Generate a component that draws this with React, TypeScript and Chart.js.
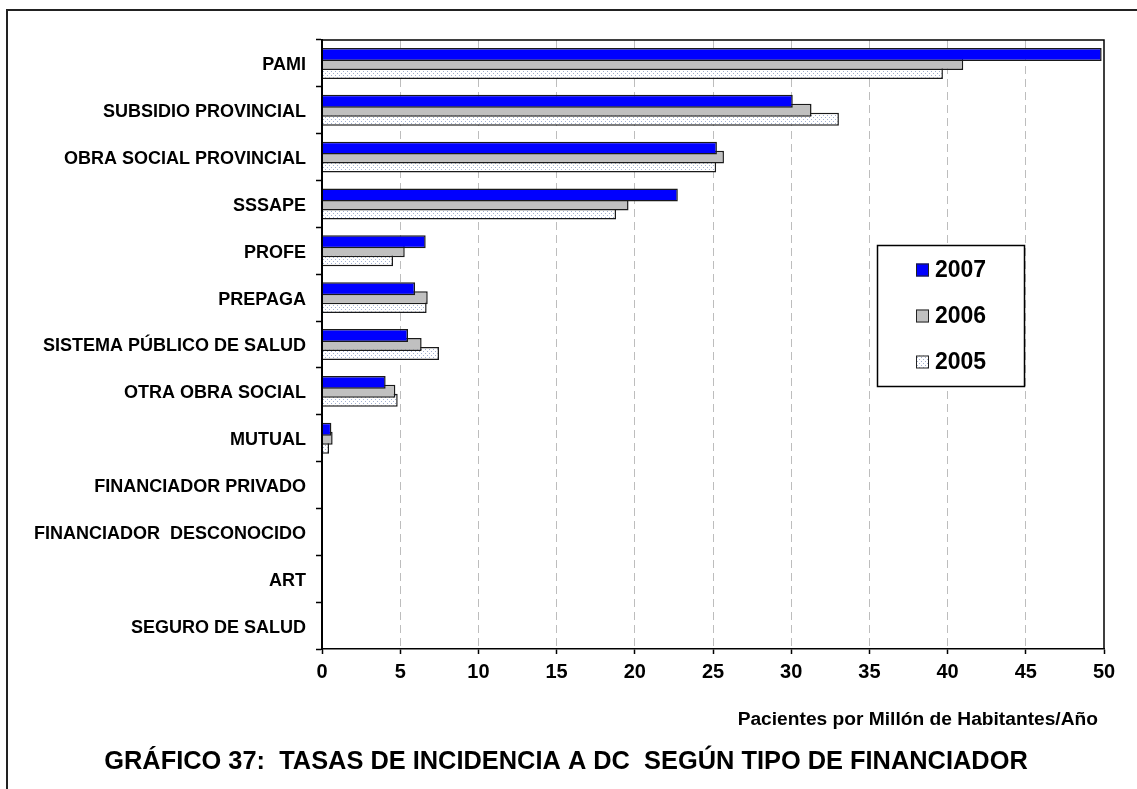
import React, { useEffect, useRef } from "react";
import { Chart, registerables } from "chart.js";

Chart.register(...registerables);

const categories = [
  "PAMI",
  "SUBSIDIO PROVINCIAL",
  "OBRA SOCIAL PROVINCIAL",
  "SSSAPE",
  "PROFE",
  "PREPAGA",
  "SISTEMA PÚBLICO DE SALUD",
  "OTRA OBRA SOCIAL",
  "MUTUAL",
  "FINANCIADOR PRIVADO",
  "FINANCIADOR  DESCONOCIDO",
  "ART",
  "SEGURO DE SALUD",
];

const values2007 = [49.85, 30.1, 25.25, 22.75, 6.63, 5.95, 5.5, 4.07, 0.6, 0, 0, 0, 0];
const values2006 = [41.0, 31.3, 25.7, 19.6, 5.29, 6.76, 6.37, 4.69, 0.68, 0, 0, 0, 0];
const values2005 = [39.7, 33.05, 25.2, 18.8, 4.54, 6.69, 7.48, 4.84, 0.45, 0, 0, 0, 0];

const seriesLabels = ["2007", "2006", "2005"];
const xMin = 0;
const xMax = 50;
const xStep = 5;

const chartTitle = "GRÁFICO 37:  TASAS DE INCIDENCIA A DC  SEGÚN TIPO DE FINANCIADOR";
const xAxisTitle = "Pacientes por Millón de Habitantes/Año";

const FONT = "'Liberation Sans', Arial, Helvetica, sans-serif";

function makeDotPattern(): CanvasPattern | string {
  const c = document.createElement("canvas");
  c.width = 4;
  c.height = 4;
  const g = c.getContext("2d");
  if (!g) return "#ffffff";
  g.fillStyle = "#ffffff";
  g.fillRect(0, 0, 4, 4);
  g.fillStyle = "#a2b0d0";
  g.fillRect(1, 1, 1, 1);
  g.fillRect(3, 3, 1, 1);
  return g.createPattern(c, "repeat") || "#ffffff";
}

export default function App() {
  const canvasRef = useRef<HTMLCanvasElement | null>(null);

  useEffect(() => {
    const canvas = canvasRef.current;
    if (!canvas) return;
    const dots = makeDotPattern();
    const colors = ["#0000ff", "#c0c0c0", dots];

    const decorPlugin = {
      id: "decor",
      beforeDraw(chart: any) {
        const ctx = chart.ctx;
        ctx.save();
        ctx.fillStyle = "#ffffff";
        ctx.fillRect(0, 0, chart.width, chart.height);
        ctx.strokeStyle = "#222";
        ctx.lineWidth = 2;
        ctx.beginPath();
        ctx.moveTo(7, chart.height + 2);
        ctx.lineTo(7, 10);
        ctx.lineTo(chart.width + 2, 10);
        ctx.stroke();
        ctx.restore();
      },
      afterDatasetsDraw(chart: any) {
        const ctx = chart.ctx;
        const a = chart.chartArea;
        ctx.save();
        ctx.strokeStyle = "#000";
        ctx.lineWidth = 1.5;
        ctx.beginPath();
        ctx.moveTo(a.left, a.top);
        ctx.lineTo(a.right, a.top);
        ctx.lineTo(a.right, a.bottom);
        ctx.stroke();
        ctx.restore();
      },
      afterDraw(chart: any) {
        const ctx = chart.ctx;
        ctx.save();
        ctx.fillStyle = "#000";
        // Axis title
        ctx.font = `bold 19.2px ${FONT}`;
        ctx.textAlign = "right";
        ctx.textBaseline = "middle";
        ctx.fillText(xAxisTitle, 1098, 720);
        // Title
        ctx.font = `bold 25.4px ${FONT}`;
        ctx.textAlign = "center";
        ctx.textBaseline = "middle";
        ctx.fillText(chartTitle, 566, 762);
        // Legend
        const lx = 877, ly = 245, lw = 147, lh = 141;
        ctx.fillStyle = "#ffffff";
        ctx.fillRect(lx, ly, lw, lh);
        ctx.strokeStyle = "#000";
        ctx.lineWidth = 1.5;
        ctx.strokeRect(lx + 0.5, ly + 0.5, lw, lh);
        const items = chart.data.datasets;
        items.forEach((ds: any, i: number) => {
          const cy = ly + 25 + i * 46;
          ctx.fillStyle = ds.backgroundColor;
          ctx.fillRect(916, cy - 6.5, 13, 13);
          ctx.strokeStyle = "#222";
          ctx.lineWidth = 1;
          ctx.strokeRect(916.5, cy - 6, 12, 12);
          ctx.fillStyle = "#000";
          ctx.font = `bold 23px ${FONT}`;
          ctx.textAlign = "left";
          ctx.textBaseline = "middle";
          ctx.fillText(ds.label, 935, cy + 1);
        });
        ctx.restore();
      },
    };

    const chart = new Chart(canvas, {
      type: "bar",
      data: {
        labels: categories,
        datasets: [
          { label: seriesLabels[0], data: values2007, backgroundColor: colors[0] as any },
          { label: seriesLabels[1], data: values2006, backgroundColor: colors[1] as any },
          { label: seriesLabels[2], data: values2005, backgroundColor: colors[2] as any },
        ].map((d) => ({
          ...d,
          borderColor: "#1a1a1a",
          borderWidth: 1.5,
          categoryPercentage: 0.576,
          barPercentage: 1.44,
        })),
      },
      options: {
        indexAxis: "y",
        responsive: false,
        animation: false,
        devicePixelRatio: 1,
        layout: { padding: { top: 40, right: 33, bottom: 40, left: 0 } },
        plugins: {
          legend: { display: false },
          tooltip: { enabled: false },
          title: { display: false },
        },
        scales: {
          x: {
            type: "linear",
            position: "bottom",
            min: xMin,
            max: xMax,
            afterFit: (s: any) => {
              s.height = 100;
            },
            ticks: {
              stepSize: xStep,
              color: "#000",
              padding: 6,
              font: { family: FONT, size: 20, weight: "bold" },
            },
            grid: {
              color: (c: any) =>
                c.tick && (c.tick.value === xMin || c.tick.value === xMax)
                  ? "rgba(0,0,0,0)"
                  : "#bdbdbd",
              lineWidth: 1,
              tickColor: "#000",
              tickLength: 5,
              tickWidth: 1.5,
              tickBorderDash: [],
            },
            border: { display: true, color: "#000", width: 1.5, dash: [8, 5] },
            title: { display: false },
          },
          y: {
            type: "category",
            afterFit: (s: any) => {
              s.width = 322;
            },
            ticks: {
              color: "#000",
              padding: 10,
              labelOffset: 2,
              autoSkip: false,
              font: { family: FONT, size: 18, weight: "bold" },
            },
            grid: {
              display: true,
              drawOnChartArea: false,
              drawTicks: true,
              tickLength: 6,
              tickColor: "#000",
              tickWidth: 1.5,
              color: "#000",
            },
            border: { display: true, color: "#000", width: 2, z: 1 },
          },
        },
      } as any,
      plugins: [decorPlugin],
    });

    return () => {
      chart.destroy();
    };
  }, []);

  return (
    <div
      style={{
        position: "absolute",
        left: 0,
        top: 0,
        width: 1137,
        height: 789,
        overflow: "hidden",
        background: "#fff",
      }}
    >
      <canvas ref={canvasRef} width={1137} height={789} style={{ display: "block" }} />
    </div>
  );
}
